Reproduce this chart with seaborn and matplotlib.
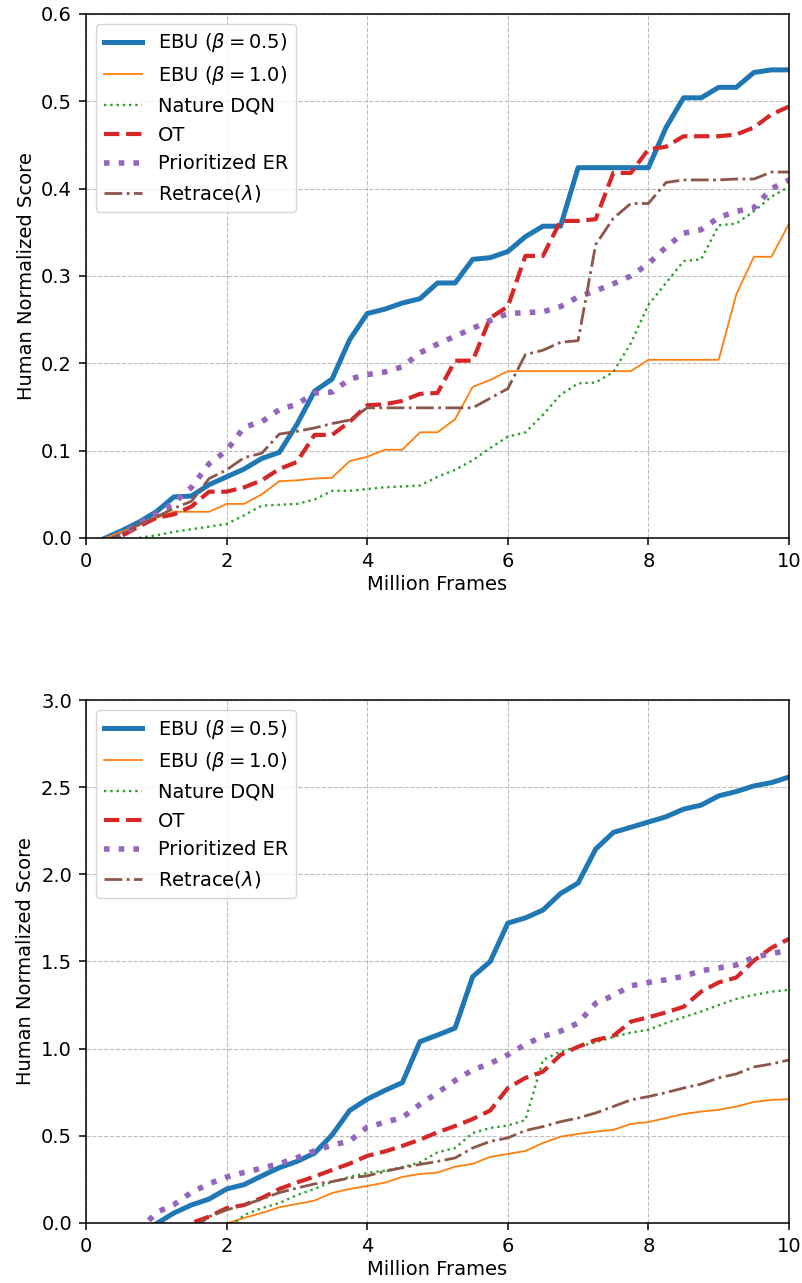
import numpy as np
import pandas as pd
import matplotlib
matplotlib.use('Agg')
import matplotlib.pyplot as plt
import seaborn as sns

nan = np.nan

# frames (million), sampled every 0.25M
frames = np.arange(1, 41) * 0.25

# ---- top panel ----
ebu05_a = [-0.001, 0.008, 0.018, 0.030, 0.047, 0.048, 0.061, 0.070, 0.079, 0.091,
           0.098, 0.130, 0.168, 0.182, 0.227, 0.257, 0.262, 0.269, 0.274, 0.292,
           0.292, 0.319, 0.321, 0.328, 0.345, 0.357, 0.357, 0.424, 0.424, 0.424,
           0.424, 0.424, 0.470, 0.504, 0.504, 0.516, 0.516, 0.533, 0.536, 0.536]
ebu10_a = [-0.001, 0.007, 0.015, 0.023, 0.030, 0.030, 0.030, 0.039, 0.039, 0.050,
           0.065, 0.066, 0.068, 0.069, 0.088, 0.093, 0.101, 0.101, 0.121, 0.121,
           0.136, 0.173, 0.181, 0.191, 0.191, 0.191, 0.191, 0.191, 0.191, 0.191,
           0.191, 0.204, 0.204, 0.204, 0.204, 0.204, 0.279, 0.322, 0.322, 0.360]
dqn_a = [nan, -0.006, 0.000, 0.003, 0.007, 0.010, 0.013, 0.016, 0.026, 0.037,
         0.038, 0.039, 0.044, 0.054, 0.054, 0.056, 0.058, 0.059, 0.060, 0.070,
         0.078, 0.089, 0.103, 0.116, 0.121, 0.141, 0.164, 0.177, 0.178, 0.190,
         0.223, 0.267, 0.292, 0.317, 0.319, 0.358, 0.360, 0.374, 0.391, 0.402]
ot_a = [-0.010, 0.002, 0.013, 0.023, 0.027, 0.036, 0.053, 0.053, 0.058, 0.066,
        0.079, 0.087, 0.118, 0.118, 0.133, 0.152, 0.153, 0.157, 0.165, 0.166,
        0.203, 0.203, 0.252, 0.265, 0.323, 0.323, 0.363, 0.363, 0.365, 0.418,
        0.418, 0.445, 0.448, 0.460, 0.460, 0.460, 0.462, 0.470, 0.485, 0.494]
per_a = [-0.010, 0.004, 0.016, 0.028, 0.040, 0.058, 0.085, 0.100, 0.127, 0.133,
         0.147, 0.153, 0.166, 0.167, 0.182, 0.187, 0.190, 0.196, 0.212, 0.222,
         0.231, 0.240, 0.249, 0.257, 0.258, 0.259, 0.265, 0.276, 0.283, 0.291,
         0.300, 0.314, 0.333, 0.349, 0.353, 0.367, 0.374, 0.378, 0.400, 0.410]
retrace_a = [-0.006, 0.005, 0.015, 0.024, 0.034, 0.042, 0.068, 0.078, 0.092, 0.097,
             0.119, 0.122, 0.126, 0.131, 0.135, 0.149, 0.149, 0.149, 0.149, 0.149,
             0.149, 0.149, 0.160, 0.171, 0.210, 0.215, 0.224, 0.226, 0.336, 0.366,
             0.383, 0.383, 0.407, 0.410, 0.410, 0.410, 0.411, 0.411, 0.419, 0.419]

# ---- bottom panel ----
ebu05_b = [nan, nan, nan, -0.005, 0.057, 0.103, 0.137, 0.195, 0.220, 0.270,
           0.317, 0.353, 0.400, 0.505, 0.645, 0.710, 0.760, 0.805, 1.040, 1.078,
           1.118, 1.413, 1.500, 1.720, 1.750, 1.795, 1.890, 1.950, 2.145, 2.240,
           2.270, 2.300, 2.330, 2.374, 2.397, 2.450, 2.475, 2.507, 2.526, 2.558]
ebu10_b = [nan, nan, nan, nan, nan, nan, nan, -0.003, 0.029, 0.057,
           0.090, 0.109, 0.128, 0.172, 0.195, 0.212, 0.231, 0.264, 0.281, 0.289,
           0.323, 0.339, 0.379, 0.396, 0.413, 0.459, 0.495, 0.511, 0.524, 0.534,
           0.568, 0.579, 0.602, 0.625, 0.639, 0.649, 0.668, 0.694, 0.706, 0.710]
dqn_b = [nan, nan, nan, nan, nan, nan, nan, -0.040, 0.046, 0.085,
         0.114, 0.160, 0.195, 0.237, 0.264, 0.287, 0.300, 0.320, 0.348, 0.405,
         0.430, 0.516, 0.545, 0.559, 0.590, 0.935, 0.983, 1.011, 1.036, 1.067,
         1.092, 1.108, 1.147, 1.180, 1.213, 1.250, 1.285, 1.308, 1.327, 1.337]
ot_b = [nan, nan, nan, nan, -0.040, 0.000, 0.036, 0.085, 0.103, 0.143,
        0.195, 0.232, 0.266, 0.304, 0.340, 0.385, 0.410, 0.442, 0.478, 0.520,
        0.556, 0.596, 0.645, 0.774, 0.832, 0.868, 0.964, 1.011, 1.050, 1.073,
        1.155, 1.180, 1.208, 1.240, 1.327, 1.380, 1.408, 1.505, 1.578, 1.630]
per_b = [nan, nan, -0.047, 0.060, 0.105, 0.175, 0.225, 0.263, 0.290, 0.314,
         0.340, 0.374, 0.414, 0.446, 0.470, 0.550, 0.577, 0.605, 0.680, 0.747,
         0.817, 0.878, 0.915, 0.964, 1.025, 1.070, 1.100, 1.147, 1.260, 1.305,
         1.360, 1.380, 1.395, 1.415, 1.447, 1.463, 1.480, 1.524, 1.545, 1.565]
retrace_b = [nan, nan, nan, nan, nan, -0.040, 0.036, 0.075, 0.103, 0.137,
             0.174, 0.200, 0.224, 0.237, 0.258, 0.270, 0.296, 0.317, 0.336, 0.353,
             0.373, 0.430, 0.468, 0.488, 0.530, 0.553, 0.581, 0.602, 0.631, 0.668,
             0.706, 0.725, 0.748, 0.774, 0.797, 0.832, 0.855, 0.895, 0.912, 0.935]

labels = ['EBU ($\\beta = 0.5$)', 'EBU ($\\beta = 1.0$)', 'Nature DQN', 'OT',
          'Prioritized ER', 'Retrace($\\lambda$)']
top_series = [ebu05_a, ebu10_a, dqn_a, ot_a, per_a, retrace_a]
bottom_series = [ebu05_b, ebu10_b, dqn_b, ot_b, per_b, retrace_b]

colors = sns.color_palette('tab10')[:6]
styles = ['-', '-', ':', '--', ':', '-.']
widths = [3.6, 1.3, 1.7, 3.0, 4.0, 2.0]

plt.rcParams['font.size'] = 14
plt.rcParams['mathtext.fontset'] = 'dejavusans'
plt.rcParams['axes.linewidth'] = 1.1
for a in ('xtick', 'ytick'):
    plt.rcParams[a + '.major.size'] = 5
    plt.rcParams[a + '.major.width'] = 1.1
    plt.rcParams[a + '.major.pad'] = 5

fig = plt.figure(figsize=(8.03, 12.83), dpi=100)
ax1 = fig.add_axes((0.1071, 0.5807, 0.8755, 0.4084))
ax2 = fig.add_axes((0.1071, 0.0468, 0.8755, 0.4076))

for ax, series, ymax, ystep in [(ax1, top_series, 0.6, 0.1), (ax2, bottom_series, 3.0, 0.5)]:
    for lab, vals, c, ls, lw in zip(labels, series, colors, styles, widths):
        sns.lineplot(x=frames, y=np.array(vals, dtype=float), ax=ax, color=c,
                     linestyle=ls, linewidth=lw, label=lab)
    ax.set_xlim(0, 10)
    ax.set_ylim(0, ymax)
    ax.set_xticks(np.arange(0, 11, 2))
    ax.set_yticks(np.arange(0, ymax + 1e-9, ystep))
    ax.yaxis.set_major_formatter(matplotlib.ticker.FormatStrFormatter('%.1f'))
    ax.grid(True, linestyle='--', color='#bdbdbd', linewidth=0.8)
    ax.set_xlabel('Million Frames', labelpad=3)
    ax.set_ylabel('Human Normalized Score')
    ax.legend(loc='upper left')

fig.savefig('out.png', dpi=100)
